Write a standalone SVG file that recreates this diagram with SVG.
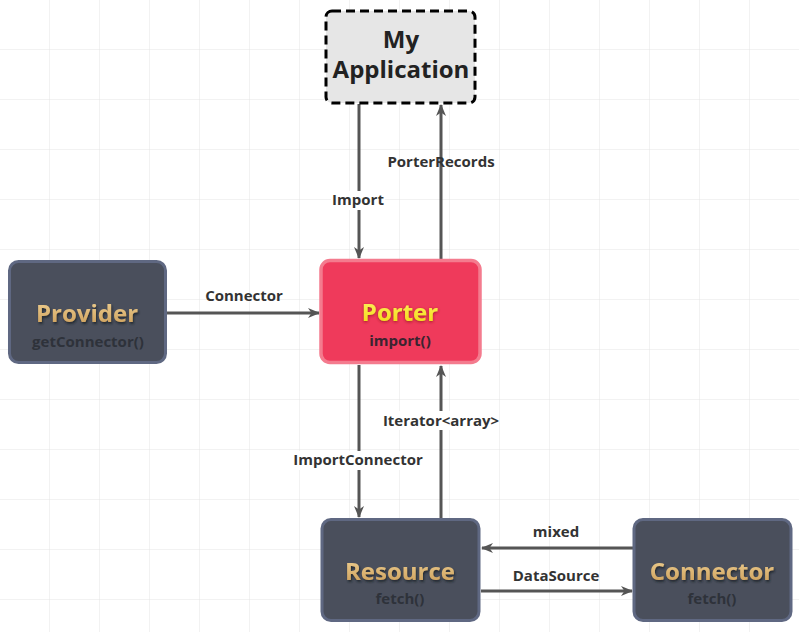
<svg xmlns="http://www.w3.org/2000/svg" width="799" height="632" viewBox="0 0 799 632">
<defs>
<pattern id="grid" width="50" height="50" patternUnits="userSpaceOnUse">
<path d="M50 0 V50 M0 50 H50" fill="none" stroke="#e4e4e4" stroke-width="1"/>
</pattern>
<linearGradient id="gold" x1="0" y1="0" x2="0" y2="1">
<stop offset="0" stop-color="#f3d699"/>
<stop offset="1" stop-color="#c99a55"/>
</linearGradient>
<linearGradient id="yel" x1="0" y1="0" x2="0" y2="1">
<stop offset="0" stop-color="#fff46a"/>
<stop offset="1" stop-color="#f2d80c"/>
</linearGradient>
<filter id="shd" x="-20%" y="-40%" width="140%" height="180%">
<feDropShadow dx="1" dy="2" stdDeviation="1.2" flood-color="#1e2028" flood-opacity="0.8"/>
</filter>
<filter id="glow" x="-20%" y="-40%" width="140%" height="180%">
<feDropShadow dx="0" dy="1" stdDeviation="1.6" flood-color="#a01e28" flood-opacity="1"/>
</filter>
<marker id="arr" viewBox="0 0 12 10" refX="11" refY="5" markerWidth="12" markerHeight="10" markerUnits="userSpaceOnUse" orient="auto">
<path d="M0 0 L12 5 L0 10 L3.5 5 Z" fill="#555"/>
</marker>
</defs>
<style>
.edge{fill:none;stroke:#555;stroke-width:3;marker-end:url(#arr)}
.lbl{font-family:"Open Sans","Liberation Sans",sans-serif;font-weight:bold;font-size:15px;fill:#333;text-anchor:middle}
.bg{fill:#fff}
.dark{fill:#4a4f5c;stroke:#5f6882;stroke-width:3}
.title{font-family:"Open Sans","Liberation Sans",sans-serif;font-weight:bold;font-size:24px;text-anchor:middle}
.sub{font-family:"Open Sans","Liberation Sans",sans-serif;font-weight:bold;font-size:15px;text-anchor:middle;fill:#2e323a}
</style>
<rect width="799" height="632" fill="#fff"/>
<rect width="799" height="632" fill="url(#grid)"/>

<g id="connectors">
<path class="edge" d="M359 104 V258"/>
<path class="edge" d="M441 259 V105"/>
<path class="edge" d="M167 313 H319"/>
<path class="edge" d="M359 365 V517"/>
<path class="edge" d="M441 518 V366"/>
<path class="edge" d="M633 548 H482"/>
<path class="edge" d="M481 591 H632"/>
<rect class="bg" x="331" y="191" width="54" height="19"/>
<text class="lbl" x="358" y="205">Import</text>
<text class="lbl" x="441" y="167">PorterRecords</text>
<text class="lbl" x="244" y="301">Connector</text>
<rect class="bg" x="294" y="451" width="129" height="19"/>
<text class="lbl" x="358" y="465">ImportConnector</text>
<rect class="bg" x="385" y="411" width="112" height="19"/>
<text class="lbl" x="441" y="426">Iterator&lt;array&gt;</text>
<text class="lbl" x="556" y="537">mixed</text>
<text class="lbl" x="556" y="581">DataSource</text>
</g>

<g id="myapp">
<rect x="326" y="11" width="149" height="92" rx="6" fill="#e6e6e6" stroke="#000" stroke-width="3" stroke-dasharray="9 5"/>
<text class="title" x="401" y="48" fill="#222">My</text>
<text class="title" x="401" y="78" fill="#222">Application</text>
</g>

<g id="provider">
<rect class="dark" x="9.5" y="261.5" width="156" height="101" rx="9"/>
<text class="title" x="87" y="322" fill="url(#gold)" filter="url(#shd)">Provider</text>
<text class="sub" x="88" y="347">getConnector()</text>
</g>

<g id="porter">
<rect x="321" y="260.5" width="159" height="102" rx="9" fill="#ef3a5b" stroke="#f47b8e" stroke-width="3.5"/>
<text class="title" x="400" y="321" fill="url(#yel)" filter="url(#glow)">Porter</text>
<text class="sub" x="400" y="346" style="fill:#3b2430">import()</text>
</g>

<g id="resource">
<rect class="dark" x="322" y="519.5" width="157" height="101" rx="9"/>
<text class="title" x="400" y="580" fill="url(#gold)" filter="url(#shd)">Resource</text>
<text class="sub" x="400" y="604">fetch()</text>
</g>

<g id="connector">
<rect class="dark" x="634" y="519.5" width="157" height="101" rx="9"/>
<text class="title" x="712" y="580" fill="url(#gold)" filter="url(#shd)">Connector</text>
<text class="sub" x="712" y="604">fetch()</text>
</g>
</svg>
